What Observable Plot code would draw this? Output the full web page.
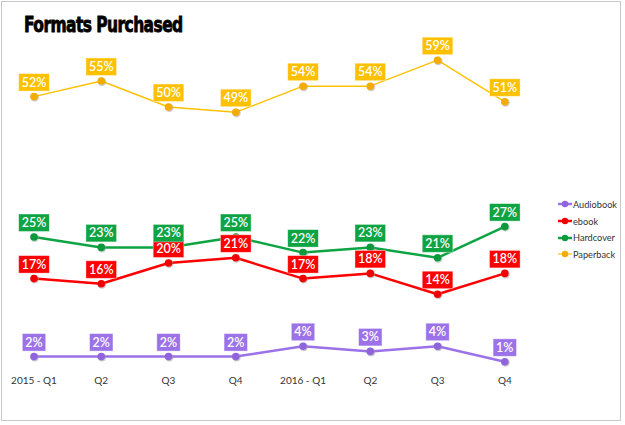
<!DOCTYPE html>
<html>
<head>
<meta charset="utf-8">
<script src="https://cdn.jsdelivr.net/npm/d3@7"></script>
<script src="https://cdn.jsdelivr.net/npm/@observablehq/plot@0.6"></script>
<style>
  html, body { margin: 0; padding: 0; background: #fff; }
  #frame { position: relative; width: 625px; height: 425px; box-sizing: border-box; overflow: hidden; }
  #border { position: absolute; left: 1px; top: 1px; width: 620px; height: 420px; border: 1px solid #c8c8c8; box-sizing: border-box; pointer-events: none; }
  #title { position: absolute; left: 24px; top: 12px; white-space: nowrap; font-family: "Liberation Sans Narrow", "DejaVu Sans Condensed", "Liberation Sans", sans-serif; font-weight: bold; font-size: 21.5px; letter-spacing: -0.7px; color: #000; -webkit-text-stroke: 0.8px #000; transform: scaleX(0.8); transform-origin: left top; }
  #chart { position: absolute; left: 0; top: 45px; }
  #legend { position: absolute; left: 557px; top: 196px; width: 64px; white-space: nowrap; font-family: Lato, "Open Sans", sans-serif; font-size: 9.2px; color: #333; }
  .li { display: flex; align-items: center; height: 16.7px; white-space: nowrap; }
  .li svg { margin-right: 0px; flex: none; }
</style>
</head>
<body>
<div id="frame">
  <div id="title">Formats Purchased</div>
  <div id="chart"></div>
  <div id="legend"></div>
  <div id="border"></div>
</div>
<script>
const quarterLabels = ["2015 - Q1", "Q2", "Q3", "Q4", "2016 - Q1", "Q2", "Q3", "Q4"];
const seriesNames = ["Audiobook", "ebook", "Hardcover", "Paperback"];
const seriesColors = ["#9b72e8", "#ff0000", "#0ea443", "#ffc000"];
const dotColors = ["#9064dc", "#f00000", "#0a9a3c", "#f5ac00"];
const lineWidths = [2.5, 2.5, 2.5, 1.4];
const audiobook = [2, 2, 2, 2, 4, 3, 4, 1];
const ebook = [17, 16, 20, 21, 17, 18, 14, 18];
const hardcover = [25, 23, 23, 25, 22, 23, 21, 27];
const paperback = [52, 55, 50, 49, 54, 54, 59, 51];

const values = [audiobook, ebook, hardcover, paperback];
const data = [];
values.forEach((arr, s) => arr.forEach((v, i) => data.push({series: seriesNames[s], q: i, v})));

const marks = [];
seriesNames.forEach((name, s) => {
  const d = data.filter(r => r.series === name);
  marks.push(Plot.line(d, {x: "q", y: "v", stroke: seriesColors[s], strokeWidth: lineWidths[s]}));
});
seriesNames.forEach((name, s) => {
  const d = data.filter(r => r.series === name);
  marks.push(Plot.dot(d, {x: "q", y: "v", r: 4.2, fill: "#999", fillOpacity: 0.5, dx: 0.8, dy: 0.8}));
  marks.push(Plot.dot(d, {x: "q", y: "v", r: 3.8, fill: dotColors[s]}));
});
seriesNames.forEach((name, s) => {
  const d = data.filter(r => r.series === name);
  marks.push(Plot.text(d, {
    x: "q", y: "v", text: r => r.v + "%", dy: -14,
    fill: "white", fontSize: 12.5, fontWeight: 600,
    fontFamily: "Lato, 'Open Sans', sans-serif",
    className: "lbl lbl-" + s
  }));
});

const chart = Plot.plot({
  width: 625,
  height: 380,
  marginLeft: 33.5,
  marginRight: 120.7,
  marginTop: 9.5,
  marginBottom: 58.5,
  style: {fontFamily: "Lato, 'Open Sans', sans-serif", background: "transparent", overflow: "visible"},
  x: {type: "linear", domain: [0, 7], label: null},
  y: {domain: [0, 60], axis: null},
  marks: [
    Plot.axisX({ticks: d3.range(8), tickFormat: i => quarterLabels[i], tickSize: 0, tickPadding: 10, fontSize: 10, fill: "#333", label: null}),
    ...marks
  ]
});
document.getElementById("chart").appendChild(chart);

// draw label boxes behind text
seriesNames.forEach((name, s) => {
  d3.select(chart).selectAll("g.lbl-" + s + " text").each(function() {
    const bb = this.getBBox();
    const tr = this.getAttribute("transform");
    const rect = document.createElementNS("http://www.w3.org/2000/svg", "rect");
    rect.setAttribute("x", bb.x - 3);
    rect.setAttribute("y", bb.y - 1);
    rect.setAttribute("width", bb.width + 6);
    rect.setAttribute("height", bb.height + 2.5);
    rect.setAttribute("fill", seriesColors[s]);
    rect.setAttribute("stroke", "#fff");
    rect.setAttribute("stroke-opacity", 0.5);
    rect.setAttribute("stroke-width", 0.8);
    if (tr) rect.setAttribute("transform", tr);
    this.parentNode.insertBefore(rect, this);
  });
});

// legend
const legend = d3.select("#legend");
seriesNames.forEach((name, s) => {
  const row = legend.append("div").attr("class", "li");
  const svg = row.append("svg").attr("width", 16).attr("height", 10);
  svg.append("line").attr("x1", 1).attr("x2", 15).attr("y1", 5).attr("y2", 5)
    .attr("stroke", seriesColors[s]).attr("stroke-width", lineWidths[s] === 2.5 ? 2.5 : 1.2);
  svg.append("circle").attr("cx", 8).attr("cy", 5).attr("r", 3.2).attr("fill", dotColors[s]);
  row.append("span").text(name);
});
</script>
</body>
</html>
